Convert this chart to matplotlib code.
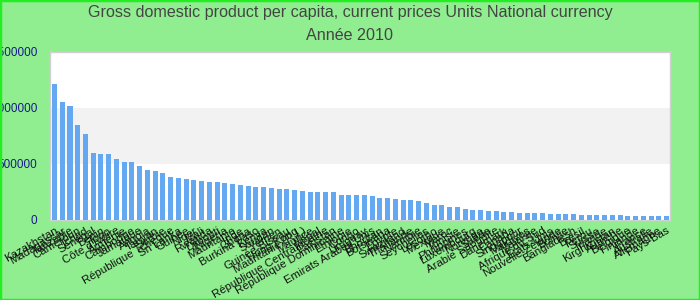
import matplotlib
matplotlib.use("Agg")
import matplotlib.pyplot as plt
from matplotlib.patches import Rectangle

title = "Gross domestic product per capita, current prices Units National currency"
subtitle = "Année 2010"

countries = [
    "Kazakhstan", "Madagascar", "Tanzanie", "Cameroun", "Tchad", "Sénégal", "Bénin", "Togo",
    "Côte d'Ivoire", "Arménie", "Cambodge", "Jamaïque", "Angola", "Taïwan", "Serbie",
    "République Tchèque", "Sri Lanka", "Guinée", "Niger", "Mali", "Rwanda", "Djibouti",
    "Nigéria", "Mauritanie", "Inde", "Ghana", "Burkina Faso", "Kenya", "Soudan", "Yémen",
    "Guinée-Bissau", "Hong Kong", "Mauritanie (R.I.)", "Maurice", "Népal",
    "République Centrafricaine", "Pakistan", "République Dominicaine", "Ethiopie", "Congo",
    "Uruguay", "Emirats Arabes Unis", "Bhoutan", "Botswana", "Egypte", "Swaziland",
    "Thaïlande", "Namibie", "Seychelles", "Lesotho", "Mexique", "Maroc", "Tunisie",
    "Philippines", "Luxembourg", "Norvège", "Suède", "Arabie Saoudite", "Danemark",
    "Canada", "Singapour", "Maldives", "Malaisie", "Afrique du Sud", "Etats-Unis",
    "Nouvelle-Zélande", "Bolivie", "Bangladesh", "Brésil", "Pérou", "Suisse", "Irlande",
    "Kirghizistan", "Autriche", "Belgique", "Finlande", "France", "Australie",
    "Allemagne", "Pays-Bas",
]

values = [
    1214000, 1054000, 1018000, 848000, 768000, 598000, 589000, 589000,
    545000, 518000, 518000, 482000, 446000, 437500, 420000,
    384000, 375000, 366000, 357000, 348000, 339000, 339000,
    330000, 321000, 312500, 304000, 295000, 295000, 286000, 277000,
    277000, 268000, 259000, 250000, 250000,
    250000, 250000, 223000, 223000, 223000,
    223000, 214000, 196000, 196000, 187500, 179000,
    179000, 170000, 152000, 134000, 134000, 116000, 116000,
    98000, 89000, 89000, 80000, 80000, 71000,
    71000, 62500, 62500, 62500, 62500, 54000,
    54000, 54000, 54000, 45000, 45000, 45000, 45000,
    45000, 45000, 36000, 36000, 36000, 36000,
    36000, 36000,
]

yticks = [0, 500000, 1000000, 1500000]

plt.rcParams['font.family'] = ['Liberation Sans', 'DejaVu Sans']

fig = plt.figure(figsize=(7, 3), dpi=100, facecolor="#90EE90")
fig.patches.append(Rectangle((0, 0), 1, 1, transform=fig.transFigure,
                             fill=False, edgecolor="#22EE22", linewidth=2.5, zorder=10))

ax = fig.add_axes([50/700, 1-220/300, 620/700, (220-51.5)/300])
ax.set_facecolor("white")

x = list(range(len(values)))
ax.bar(x, values, width=0.65, color="#63A8F1", zorder=3)

ax.axhspan(500000, 1000000, color="#F2F2F2", zorder=0, linewidth=0)

ax.set_xlim(-0.58, len(values) - 0.55)
ax.set_ylim(0, 1500000)
ax.set_yticks(yticks)
ax.set_yticklabels([str(v) for v in yticks], color="#1A1A8C", fontsize=8.5)
ax.set_xticks(x)
ax.set_xticklabels(countries, rotation=30, ha="right", rotation_mode="anchor",
                   fontsize=8.2, color="#111111")
ax.tick_params(axis="both", length=0)
ax.tick_params(axis="y", pad=9)
ax.tick_params(axis="x", pad=4)

for s in ax.spines.values():
    s.set_color("#D0D0D0")
    s.set_linewidth(1)

fig.text(0.5, 1-13/300, title, ha="center", va="center", fontsize=11.6, color="#444444")
fig.text(0.5, 1-36/300, subtitle, ha="center", va="center", fontsize=11.6, color="#444444")

fig.savefig("out.png", dpi=100, facecolor=fig.get_facecolor())
